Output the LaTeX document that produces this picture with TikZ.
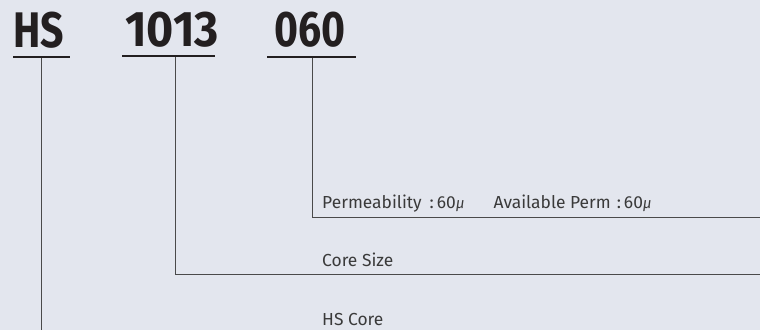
\documentclass[tikz,border=0pt]{standalone}
\usepackage{fontspec}
\setmainfont{Fira Sans}
\definecolor{bg}{HTML}{E3E6EE}
\definecolor{ink}{HTML}{231F20}
\definecolor{linec}{HTML}{4A4A4A}
\definecolor{txt}{HTML}{3A3A3A}
\newcommand{\mymu}{{\itshape\fontsize{15}{15}\selectfont μ}}
\tikzset{
  code/.style={inner sep=0pt, anchor=base west, text=ink, font=\fontsize{50}{50}\selectfont\bfseries},
  uline/.style={draw=ink, line width=2.2pt},
  conn/.style={draw=linec, line width=1pt},
  lab/.style={inner sep=0pt, anchor=base west, text=txt, font=\fontsize{17.4}{17.4}\selectfont},
}
\begin{document}
\begin{tikzpicture}[x=1pt,y=-1pt]
\fill[bg] (0,0) rectangle (760,330);
\useasboundingbox (0,0) rectangle (760,330);
% codes
\node[code] (hs) at (13,47) {\scalebox{0.82}[1]{HS}};
\node[code] (size) at (125,46) {\scalebox{0.93}[1]{1013}};
\node[code] (perm) at (274,46) {\scalebox{0.82}[1]{060}};
% underlines
\coordinate (hsL) at (13,57.3); \coordinate (hsR) at (70,57.3);
\coordinate (szL) at (122,56.3); \coordinate (szR) at (215,56.3);
\coordinate (pmL) at (267,57.3); \coordinate (pmR) at (356,57.3);
\draw[uline] (hsL) -- (hsR);
\draw[uline] (szL) -- (szR);
\draw[uline] (pmL) -- (pmR);
% connector ends
\coordinate (hsT) at (41.7,58);
\coordinate (hsB) at (41.7,330);
\coordinate (szT) at (175.3,57);
\coordinate (szC) at (175.3,274.5);
\coordinate (szE) at (760,274.5);
\coordinate (pmT) at (312.7,58);
\coordinate (pmC) at (312.7,217.3);
\coordinate (pmE) at (760,217.3);
\draw[conn] (hsT) -- (hsB);
\draw[conn] (szT) -- (szC) -- (szE);
\draw[conn] (pmT) -- (pmC) -- (pmE);
% labels
\node[lab] (lperm) at (322,208) {Permeability\hspace{8pt}:\hspace{3pt}60\mymu\hspace{29pt}Available Perm\hspace{6pt}:\hspace{3pt}60\mymu};
\node[lab] (lsize) at (322,266) {Core Size};
\node[lab] (lhs) at (322,325) {HS Core};
\end{tikzpicture}
\end{document}
